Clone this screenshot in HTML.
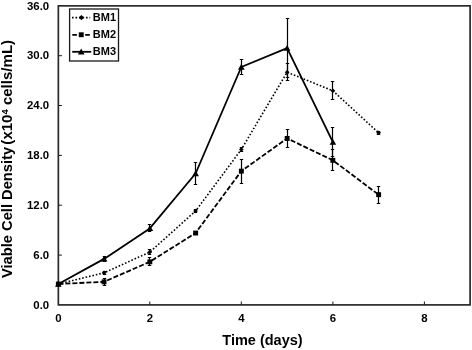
<!DOCTYPE html>
<html><head><meta charset="utf-8"><title>Growth curve</title>
<style>html,body{margin:0;padding:0;background:#fff}svg{display:block}text{font-family:"Liberation Sans",Arial,sans-serif;font-weight:bold;fill:#000}</style></head><body>
<svg width="472" height="350" viewBox="0 0 472 350">
<rect width="472" height="350" fill="#fff"/>
<rect x="58.35" y="5.85" width="411.75" height="299.05" fill="none" stroke="#2a2a2a" stroke-width="1.7"/>
<text x="49.2" y="308.6" font-size="11.4" text-anchor="end">0.0</text>
<line x1="58.35" x2="61.95" y1="255.1" y2="255.1" stroke="#1a1a1a" stroke-width="1"/>
<text x="49.2" y="258.8" font-size="11.4" text-anchor="end">6.0</text>
<line x1="58.35" x2="61.95" y1="205.2" y2="205.2" stroke="#1a1a1a" stroke-width="1"/>
<text x="49.2" y="208.9" font-size="11.4" text-anchor="end">12.0</text>
<line x1="58.35" x2="61.95" y1="155.4" y2="155.4" stroke="#1a1a1a" stroke-width="1"/>
<text x="49.2" y="159.1" font-size="11.4" text-anchor="end">18.0</text>
<line x1="58.35" x2="61.95" y1="105.5" y2="105.5" stroke="#1a1a1a" stroke-width="1"/>
<text x="49.2" y="109.2" font-size="11.4" text-anchor="end">24.0</text>
<line x1="58.35" x2="61.95" y1="55.7" y2="55.7" stroke="#1a1a1a" stroke-width="1"/>
<text x="49.2" y="59.4" font-size="11.4" text-anchor="end">30.0</text>
<text x="49.2" y="9.5" font-size="11.4" text-anchor="end">36.0</text>
<text x="58.4" y="321.8" font-size="11.4" text-anchor="middle">0</text>
<line x1="149.8" x2="149.8" y1="304.9" y2="301.5" stroke="#1a1a1a" stroke-width="1"/>
<text x="149.8" y="321.8" font-size="11.4" text-anchor="middle">2</text>
<line x1="241.3" x2="241.3" y1="304.9" y2="301.5" stroke="#1a1a1a" stroke-width="1"/>
<text x="241.3" y="321.8" font-size="11.4" text-anchor="middle">4</text>
<line x1="332.9" x2="332.9" y1="304.9" y2="301.5" stroke="#1a1a1a" stroke-width="1"/>
<text x="332.9" y="321.8" font-size="11.4" text-anchor="middle">6</text>
<line x1="424.4" x2="424.4" y1="304.9" y2="301.5" stroke="#1a1a1a" stroke-width="1"/>
<text x="424.4" y="321.8" font-size="11.4" text-anchor="middle">8</text>
<text x="262.5" y="344.9" font-size="14.5" text-anchor="middle">Time (days)</text>
<text transform="translate(12.4,278.1) rotate(-90) scale(1.021,1)" font-size="14.4" text-anchor="start">Viable Cell Density</text>
<text transform="translate(12.4,39.9) rotate(-90) scale(1.045,1)" font-size="14.4" text-anchor="end">(x10<tspan font-size="9" dy="-4.8">4</tspan><tspan dy="4.8"> cells/mL)</tspan></text>
<path d="M104.5 271.5V274.5M102.8 271.5h3.4M102.8 274.5h3.4" stroke="#000" stroke-width="1.2" fill="none"/>
<path d="M149.5 249.5V254.5M147.8 249.5h3.4M147.8 254.5h3.4" stroke="#000" stroke-width="1.2" fill="none"/>
<path d="M195.5 209.5V212.5M193.8 209.5h3.4M193.8 212.5h3.4" stroke="#000" stroke-width="1.2" fill="none"/>
<path d="M241.5 147.5V151.5M239.8 147.5h3.4M239.8 151.5h3.4" stroke="#000" stroke-width="1.2" fill="none"/>
<path d="M287.5 63.5V80.5M285.8 63.5h3.4M285.8 80.5h3.4" stroke="#000" stroke-width="1.2" fill="none"/>
<path d="M332.5 81.5V99.5M330.8 81.5h3.4M330.8 99.5h3.4" stroke="#000" stroke-width="1.2" fill="none"/>
<path d="M378.5 131.5V134.5M376.8 131.5h3.4M376.8 134.5h3.4" stroke="#000" stroke-width="1.2" fill="none"/>
<path d="M104.5 278.5V285.5M102.8 278.5h3.4M102.8 285.5h3.4" stroke="#000" stroke-width="1.2" fill="none"/>
<path d="M149.5 257.5V265.5M147.8 257.5h3.4M147.8 265.5h3.4" stroke="#000" stroke-width="1.2" fill="none"/>
<path d="M195.5 231.5V234.5M193.8 231.5h3.4M193.8 234.5h3.4" stroke="#000" stroke-width="1.2" fill="none"/>
<path d="M241.5 159.5V183.5M239.8 159.5h3.4M239.8 183.5h3.4" stroke="#000" stroke-width="1.2" fill="none"/>
<path d="M287.5 129.5V147.5M285.8 129.5h3.4M285.8 147.5h3.4" stroke="#000" stroke-width="1.2" fill="none"/>
<path d="M332.5 149.5V170.5M330.8 149.5h3.4M330.8 170.5h3.4" stroke="#000" stroke-width="1.2" fill="none"/>
<path d="M378.5 186.5V203.5M376.8 186.5h3.4M376.8 203.5h3.4" stroke="#000" stroke-width="1.2" fill="none"/>
<path d="M104.5 256.5V261.5M102.8 256.5h3.4M102.8 261.5h3.4" stroke="#000" stroke-width="1.2" fill="none"/>
<path d="M149.5 224.5V231.5M147.8 224.5h3.4M147.8 231.5h3.4" stroke="#000" stroke-width="1.2" fill="none"/>
<path d="M195.5 162.5V184.5M193.8 162.5h3.4M193.8 184.5h3.4" stroke="#000" stroke-width="1.2" fill="none"/>
<path d="M241.5 59.5V74.5M239.8 59.5h3.4M239.8 74.5h3.4" stroke="#000" stroke-width="1.2" fill="none"/>
<path d="M287.5 18.5V77.5M285.8 18.5h3.4M285.8 77.5h3.4" stroke="#000" stroke-width="1.2" fill="none"/>
<path d="M332.5 127.5V156.5M330.8 127.5h3.4M330.8 156.5h3.4" stroke="#000" stroke-width="1.2" fill="none"/>
<polyline points="58.4,284.0 104.1,272.8 149.8,252.1 195.6,211.0 241.3,149.5 287.1,72.2 332.9,90.8 378.6,132.8" fill="none" stroke="#000" stroke-width="1.6" stroke-dasharray="1.6 1.9"/>
<polyline points="58.4,284.0 104.1,281.8 149.8,261.8 195.6,233.0 241.3,171.1 287.1,138.4 332.9,160.3 378.6,194.7" fill="none" stroke="#000" stroke-width="1.8" stroke-dasharray="5 2"/>
<polyline points="58.4,284.0 104.1,258.9 149.8,228.4 195.6,173.5 241.3,67.0 287.1,48.1 332.9,142.1" fill="none" stroke="#000" stroke-width="1.8" stroke-linejoin="round"/>
<path d="M58.4 281.6L60.7 284.0L58.4 286.4L56.0 284.0Z" fill="#000"/>
<path d="M104.1 270.4L106.4 272.8L104.1 275.2L101.8 272.8Z" fill="#000"/>
<path d="M149.8 249.8L152.2 252.1L149.8 254.4L147.5 252.1Z" fill="#000"/>
<path d="M195.6 208.7L197.9 211.0L195.6 213.3L193.2 211.0Z" fill="#000"/>
<path d="M241.3 147.2L243.7 149.5L241.3 151.8L239.0 149.5Z" fill="#000"/>
<path d="M287.1 69.9L289.5 72.2L287.1 74.5L284.8 72.2Z" fill="#000"/>
<path d="M332.9 88.5L335.2 90.8L332.9 93.1L330.5 90.8Z" fill="#000"/>
<path d="M378.6 130.5L381.0 132.8L378.6 135.2L376.2 132.8Z" fill="#000"/>
<rect x="55.9" y="281.6" width="4.9" height="4.9" fill="#000"/>
<rect x="101.6" y="279.4" width="4.9" height="4.9" fill="#000"/>
<rect x="147.4" y="259.4" width="4.9" height="4.9" fill="#000"/>
<rect x="193.2" y="230.6" width="4.9" height="4.9" fill="#000"/>
<rect x="238.9" y="168.7" width="4.9" height="4.9" fill="#000"/>
<rect x="284.7" y="136.0" width="4.9" height="4.9" fill="#000"/>
<rect x="330.4" y="157.9" width="4.9" height="4.9" fill="#000"/>
<rect x="376.2" y="192.2" width="4.9" height="4.9" fill="#000"/>
<path d="M58.4 280.8L61.6 286.7L55.1 286.7Z" fill="#000"/>
<path d="M104.1 255.7L107.4 261.6L100.8 261.6Z" fill="#000"/>
<path d="M149.8 225.2L153.2 231.1L146.5 231.1Z" fill="#000"/>
<path d="M195.6 170.3L198.9 176.2L192.3 176.2Z" fill="#000"/>
<path d="M241.3 63.8L244.7 69.7L238.0 69.7Z" fill="#000"/>
<path d="M287.1 44.9L290.4 50.8L283.8 50.8Z" fill="#000"/>
<path d="M332.9 138.9L336.2 144.8L329.6 144.8Z" fill="#000"/>
<rect x="69.6" y="9.0" width="48.9" height="52.0" fill="#fff" stroke="#1a1a1a" stroke-width="1.3"/>
<line x1="72.0" x2="90.2" y1="17.6" y2="17.6" stroke="#000" stroke-width="1.6" stroke-dasharray="1.6 1.9"/>
<text x="92.8" y="21.2" font-size="11">BM1</text>
<path d="M72.3 34.8H76.9M85.2 34.8H89.8" stroke="#000" stroke-width="1.8" fill="none"/>
<text x="92.8" y="38.4" font-size="11">BM2</text>
<line x1="72.2" x2="91.2" y1="51.8" y2="51.8" stroke="#000" stroke-width="1.8"/>
<text x="92.8" y="55.4" font-size="11">BM3</text>
<path d="M81.4 14.9L84.1 17.6L81.4 20.3L78.7 17.6Z" fill="#000"/>
<rect x="78.8" y="32.3" width="4.9" height="4.9" fill="#000"/>
<path d="M81.2 48.6L84.5 54.5L77.9 54.5Z" fill="#000"/>
</svg></body></html>
